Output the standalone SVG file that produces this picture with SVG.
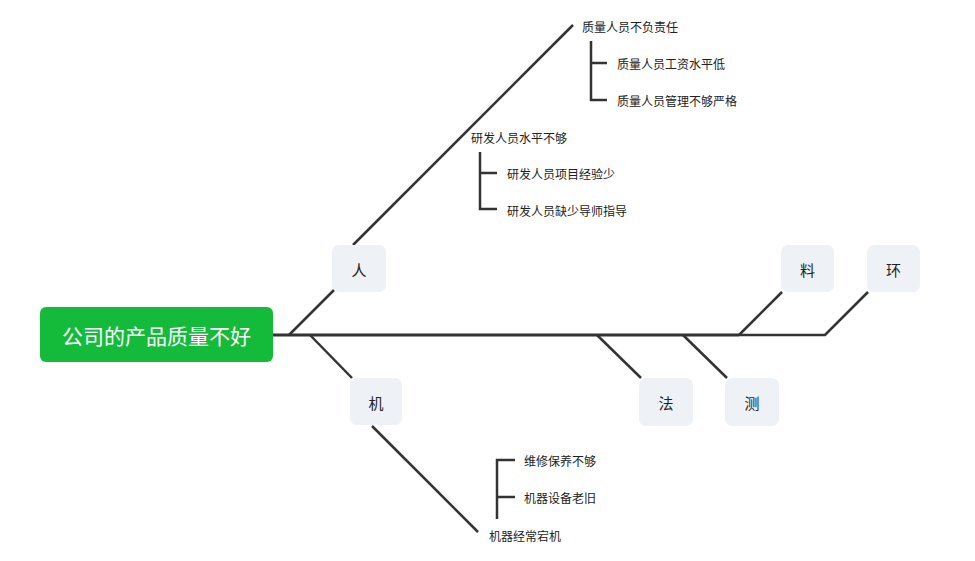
<svg xmlns="http://www.w3.org/2000/svg" width="975" height="561" viewBox="0 0 975 561">
<style>
.ln{stroke:#333;stroke-width:2.5;fill:none;stroke-linecap:butt}
.sp{stroke:#333;stroke-width:3;fill:none}
.box{fill:#eef1f5}
.bl{font-family:"Noto Sans CJK SC","Noto Sans",sans-serif;font-size:15px;fill:#222;text-anchor:middle;dominant-baseline:central}
.t{font-family:"Noto Sans CJK SC","Noto Sans",sans-serif;font-size:12px;fill:#222;dominant-baseline:central}
.root{font-family:"Noto Sans CJK SC","Noto Sans",sans-serif;font-size:21px;fill:#fff;text-anchor:middle;dominant-baseline:central}
</style>
<rect width="975" height="561" fill="#fff"/>
<g id="connectors">
<path class="sp" d="M273 335 H739"/>
<path class="ln" d="M739 335 H825 L868 292"/>
<path class="ln" d="M739 335 L782 292"/>
<path class="ln" d="M597 335 L641 378"/>
<path class="ln" d="M683 335 L727 378"/>
<path class="ln" d="M289 335 L334 290"/>
<path class="ln" d="M353 245 L573 25"/>
<path class="ln" d="M310 335 L352 378"/>
<path class="ln" d="M372 426 L478 532"/>
<path class="ln" d="M591 41 V100 H607 M591 63 H607"/>
<path class="ln" d="M480 152 V209 H497 M480 173 H497"/>
<path class="ln" d="M515 460 H497 V519 M497 497 H515"/>
</g>
<g id="root"><rect x="40" y="307" width="233" height="55" rx="6" fill="#14bb3b"/><text class="root" x="156.5" y="335">公司的产品质量不好</text></g>
<g id="ren"><rect class="box" x="332" y="245" width="54" height="47" rx="7"/><text class="bl" x="359" y="269">人</text></g>
<g id="ji"><rect class="box" x="350" y="378" width="52" height="47" rx="7"/><text class="bl" x="376" y="402">机</text></g>
<g id="liao"><rect class="box" x="781" y="245" width="53" height="47" rx="7"/><text class="bl" x="807.5" y="269">料</text></g>
<g id="huan"><rect class="box" x="867" y="245" width="53" height="47" rx="7"/><text class="bl" x="893.5" y="269">环</text></g>
<g id="fa"><rect class="box" x="639" y="378" width="54" height="48" rx="7"/><text class="bl" x="666" y="402">法</text></g>
<g id="ce"><rect class="box" x="725" y="378" width="54" height="48" rx="7"/><text class="bl" x="752" y="402">测</text></g>
<g id="n1"><text class="t" x="582" y="26">质量人员不负责任</text></g>
<g id="n1a"><text class="t" x="617" y="63">质量人员工资水平低</text></g>
<g id="n1b"><text class="t" x="617" y="100">质量人员管理不够严格</text></g>
<g id="n2"><text class="t" x="471" y="137">研发人员水平不够</text></g>
<g id="n2a"><text class="t" x="507" y="173">研发人员项目经验少</text></g>
<g id="n2b"><text class="t" x="507" y="210">研发人员缺少导师指导</text></g>
<g id="n3"><text class="t" x="489" y="535">机器经常宕机</text></g>
<g id="n3a"><text class="t" x="524" y="460">维修保养不够</text></g>
<g id="n3b"><text class="t" x="524" y="497">机器设备老旧</text></g>
</svg>
